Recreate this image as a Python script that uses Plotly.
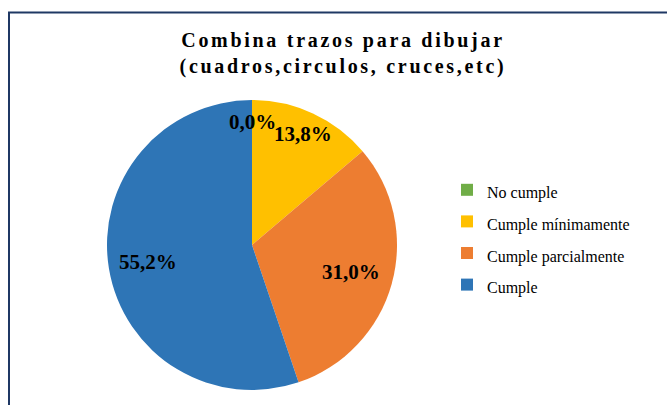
import math
import plotly.graph_objects as go

categories = ["No cumple", "Cumple mínimamente", "Cumple parcialmente", "Cumple"]
values = [0.0, 13.8, 31.0, 55.2]
colors = ["#70AD47", "#FFC000", "#ED7D31", "#2E75B6"]
label_radius = [0.85, 0.84, 0.71, 0.73]

W, H = 667, 405
cx_px, cy_px, r_px = 252, 245, 145
SERIF = "Times New Roman, Liberation Serif, serif"

legend_labels = ["<span style='font-size:16px'>%s</span>" % c for c in categories]

fig = go.Figure()
fig.add_trace(go.Pie(
    labels=legend_labels, values=values, sort=False, direction="clockwise", rotation=0,
    marker=dict(colors=colors, line=dict(width=0)),
    textinfo="none", hoverinfo="label+percent", showlegend=True,
    domain=dict(x=[(cx_px - r_px) / W, (cx_px + r_px) / W],
                y=[1 - (cy_px + r_px) / H, 1 - (cy_px - r_px) / H]),
))

total = sum(values)
cum = 0.0
annotations = []
for v, f in zip(values, label_radius):
    mid = (cum + v / 2) / total * 2 * math.pi
    cum += v
    x = (cx_px + f * r_px * math.sin(mid)) / W
    y = 1 - (cy_px - f * r_px * math.cos(mid)) / H
    annotations.append(dict(
        x=x, y=y, xref="paper", yref="paper", showarrow=False,
        xanchor="center", yanchor="middle",
        text="<b>" + ("%.1f%%" % v).replace(".", ",") + "</b>",
        font=dict(family=SERIF, size=21, color="black"),
    ))

title_text = ("<b><span style='letter-spacing:2.7px'>Combina trazos para dibujar</span><br>"
              "<span style='letter-spacing:2.7px'>(cuadros,circulos, cruces,etc)</span></b>")

fig.update_layout(
    width=W, height=H,
    margin=dict(l=0, r=0, t=0, b=0),
    paper_bgcolor="white", plot_bgcolor="white",
    title=dict(
        text=title_text,
        x=343 / W, xanchor="center", y=1 - 47 / H, yanchor="top",
        font=dict(family=SERIF, size=20, color="black"),
    ),
    legend=dict(
        x=447 / W, y=1 - 169 / H, xanchor="left", yanchor="top",
        font=dict(family=SERIF, size=22, color="black"),
        bgcolor="rgba(0,0,0,0)",
    ),
    annotations=annotations,
    shapes=[dict(type="rect", xref="paper", yref="paper",
                 x0=9 / W, x1=1.1, y0=-0.1, y1=1 - 12.5 / H,
                 line=dict(color="#1F3864", width=2), fillcolor="rgba(0,0,0,0)", layer="below")],
)

fig.write_html("out.html", config={"displayModeBar": False},
               post_script="document.body.style.margin='0';")
